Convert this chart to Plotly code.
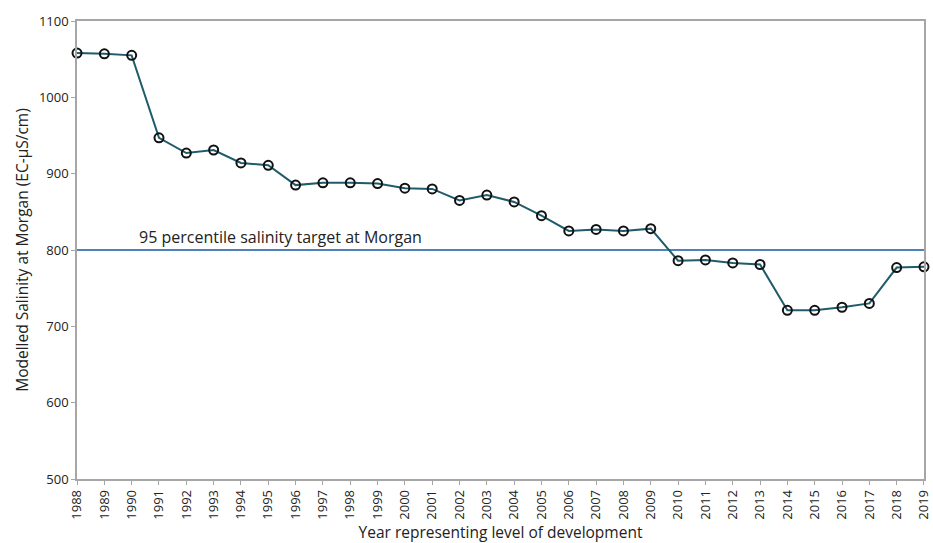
import plotly.graph_objects as go

years = list(range(1988, 2020))
salinity = [1058, 1057, 1055, 947, 927, 931, 914, 911, 885, 888, 888, 887,
            881, 880, 865, 872, 863, 845, 825, 827, 825, 828, 786, 787, 783,
            781, 721, 721, 725, 730, 777, 778]
target_value = 800
target_label = "95 percentile salinity target at Morgan"
y_ticks = [500, 600, 700, 800, 900, 1000, 1100]

FONT = "Open Sans"
fig = go.Figure()
fig.add_trace(go.Scatter(
    x=[years[0], years[-1]], y=[target_value, target_value], mode="lines",
    line=dict(color="#4f81bd", width=2), showlegend=False, hoverinfo="skip"))
fig.add_trace(go.Scatter(
    x=years, y=salinity, mode="lines+markers",
    line=dict(color="#1f5c6b", width=2),
    marker=dict(symbol="circle-open", size=9, color="#111111",
                line=dict(width=2, color="#111111")),
    cliponaxis=False, showlegend=False))

fig.add_annotation(x=1990.2, y=target_value, xref="x", yref="y",
                   text=target_label, showarrow=False, xanchor="left",
                   yanchor="bottom", yshift=0,
                   font=dict(family=FONT, size=16, color="#222222"))

axis_common = dict(showline=True, linecolor="#a6a6a6", linewidth=1.5,
                   mirror=True, ticks="outside", tickcolor="#a6a6a6",
                   ticklen=4, showgrid=False, zeroline=False,
                   tickfont=dict(family=FONT, size=13, color="#222222"))
fig.update_xaxes(range=[years[0] - 0.001, years[-1] + 0.001], tickvals=years,
                 ticktext=[str(y) for y in years], tickangle=-90,
                 ticklabeloverflow="allow",
                 title=dict(text="Year representing level of development",
                            font=dict(family=FONT, size=15.5, color="#222222"),
                            standoff=8),
                 **axis_common)
fig.update_yaxes(range=[500, 1100], tickvals=y_ticks,
                 title=dict(text="Modelled Salinity at Morgan (EC-µS/cm)",
                            font=dict(family=FONT, size=15.5, color="#222222"),
                            standoff=6),
                 **axis_common)

fig.update_layout(width=933, height=543,
                  margin=dict(l=77, r=9, t=21, b=64, autoexpand=False),
                  paper_bgcolor="white", plot_bgcolor="white")
fig.write_html("out.html", config={"displayModeBar": False},
               post_script="document.body.style.margin='0';"
                           "document.body.style.overflow='hidden';")
